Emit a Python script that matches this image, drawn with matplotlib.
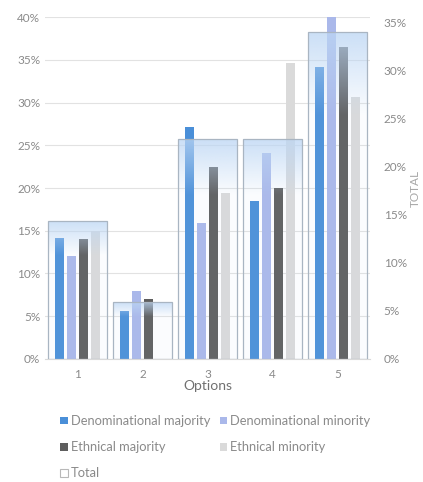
import numpy as np
import matplotlib
matplotlib.use("Agg")
import matplotlib.pyplot as plt
from matplotlib.patches import Rectangle
from matplotlib.ticker import PercentFormatter

plt.rcParams["font.family"] = ["Lato", "DejaVu Sans"]

# survey shares per option (percent)
options = ["1", "2", "3", "4", "5"]
denom_major = [14.2, 5.6, 27.1, 18.5, 34.2]
denom_minor = [12.0, 7.9, 15.9, 24.1, 40.0]
ethnic_major = [14.0, 7.0, 22.4, 20.0, 36.5]
ethnic_minor = [15.0, 0.0, 19.4, 34.6, 30.7]
total = [14.4, 5.9, 22.9, 22.9, 34.0]

series = [
    ("Denominational majority", denom_major, "#4a8fd8"),
    ("Denominational minority", denom_minor, "#aab8ea"),
    ("Ethnical majority", ethnic_major, "#5e5e5e"),
    ("Ethnical minority", ethnic_minor, "#dadada"),
]

txt = "#8a8a8a"
fig = plt.figure(figsize=(4.23, 4.82), dpi=100)
ax = fig.add_axes([0.1064, 0.2552, 0.768, 0.7095])
ax2 = ax.twinx()

x = np.arange(len(options))
w = 0.14
offs = [-0.2775, -0.0925, 0.0925, 0.2775]
handles = []
for (name, vals, col), off in zip(series, offs):
    b = ax.bar(x + off, vals, w, color=col, zorder=2, label=name)
    handles.append(b)

ax.set_ylim(0, 40)
ax.set_xlim(-0.5, 4.5)
ax.set_yticks(np.arange(0, 41, 5))
ax.yaxis.set_major_formatter(PercentFormatter(decimals=0))
ax.grid(axis="y", color="#e2e2e2", lw=0.8, zorder=0)
ax.set_axisbelow(True)
ax.set_xticks(x)
ax.set_xticklabels(options)
ax.set_xlabel("Options", color="#707070", fontsize=10, labelpad=0)

# total boxes on the secondary axis with a soft blue fade from the top
ax2.set_ylim(0, 35.6)
ax2.set_yticks(np.arange(0, 36, 5))
ax2.yaxis.set_major_formatter(PercentFormatter(decimals=0))
ax2.set_ylabel("TOTAL", color="#a8a8a8", fontsize=8.5, labelpad=2)
bw = 0.91
grad = np.zeros((100, 1, 4))
grad[:, 0, :3] = matplotlib.colors.to_rgb("#bcd6f4")
t = np.linspace(0, 1, 100)
grad[:, 0, 3] = np.clip(0.7 * (1 - t / 0.25), 0, None) + 0.06
for xi, h in zip(x, total):
    rect = Rectangle((xi - bw / 2, 0), bw, h, fill=False,
                     ec="#a9b5c2", lw=0.9, zorder=4)
    ax2.add_patch(rect)
    im = ax2.imshow(grad, extent=(xi - bw / 2, xi + bw / 2, 0, h),
                    origin="upper", aspect="auto", zorder=3, interpolation="bilinear")
    im.set_clip_path(rect)
ax2.set_xlim(-0.5, 4.5)
box_handle = Rectangle((0, 0), 1, 1, fc="white", ec="#b8b8b8", lw=0.8)

for a in (ax, ax2):
    for s in a.spines.values():
        s.set_visible(False)
    a.tick_params(length=0, colors=txt, labelsize=8.5)
ax.spines["bottom"].set_visible(True)
ax.spines["bottom"].set_color("#d9d9d9")
ax.tick_params(axis="x", pad=7)
ax2.tick_params(axis="y", pad=10)

order = [handles[0], handles[2], box_handle, handles[1], handles[3]]
labels = ["Denominational majority", "Ethnical majority", "Total",
          "Denominational minority", "Ethnical minority"]
fig.legend(order, labels, ncol=2, loc="upper left", bbox_to_anchor=(0.143, 0.139),
           frameon=False, fontsize=9.3, labelcolor=txt, handlelength=0.55,
           handleheight=0.55, handletextpad=0.25, labelspacing=1.1,
           columnspacing=0.75, borderpad=0, borderaxespad=0)

fig.savefig("out.png", dpi=100)
